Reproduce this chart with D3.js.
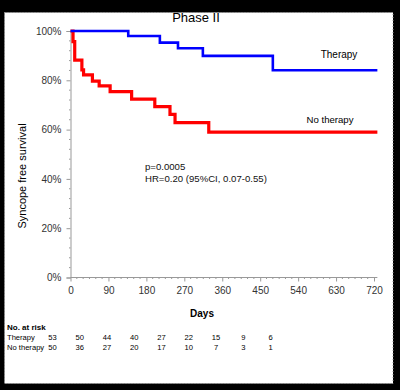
<!DOCTYPE html>
<html>
<head>
<meta charset="utf-8">
<script src="https://cdn.jsdelivr.net/npm/d3@7"></script>
<style>
  html, body { margin: 0; padding: 0; background: #000; }
  svg { display: block; font-family: "Liberation Sans", Arial, sans-serif; }
</style>
</head>
<body>
<svg id="chart" width="400" height="390"></svg>
<script>
// ---- data ----
const title = "Phase II";
const xTicks = [0, 90, 180, 270, 360, 450, 540, 630, 720];
const yTicks = [0, 20, 40, 60, 80, 100];

const therapyDays = [0, 137, 212, 255, 314, 480, 728];
const therapySurv = [100, 98.0, 95.3, 93.0, 89.9, 84.1, 84.1];

const noTherapyDays = [0, 6, 10, 27, 31, 52, 68, 94, 145, 200, 236, 248, 328, 728];
const noTherapySurv = [100, 95.7, 88.2, 84.2, 82.2, 79.7, 77.7, 75.4, 72.4, 69.3, 66.2, 62.8, 59.0, 59.0];

const riskGroups = ["Therapy", "No therapy"];
const riskTherapy = [53, 50, 44, 40, 27, 22, 15, 9, 6];
const riskNoTherapy = [50, 36, 27, 20, 17, 10, 7, 3, 1];

const pText = "p=0.0005";
const hrText = "HR=0.20 (95%CI, 0.07-0.55)";

// ---- drawing ----
const svg = d3.select("#chart");

svg.append("rect").attr("x", 0).attr("y", 0).attr("width", 400).attr("height", 390).attr("fill", "#000");
svg.append("rect").attr("x", 4.5).attr("y", 12.5).attr("width", 388.5).attr("height", 371)
  .attr("fill", "#fff").attr("stroke", "#999").attr("stroke-dasharray", "1,2");

const x = d3.scaleLinear().domain([0, 720]).range([70.5, 374]);
const y = d3.scaleLinear().domain([0, 100]).range([277.5, 31]);

// axes
const axisColor = "#999";
const labelColor = "#333";

const yAxis = svg.append("g").attr("transform", `translate(${x(0)},0)`)
  .call(d3.axisLeft(y).tickValues(yTicks).tickFormat(d => d + "%").tickSize(4).tickPadding(5));
const xAxis = svg.append("g").attr("transform", `translate(0,${y(0)})`)
  .call(d3.axisBottom(x).tickValues(xTicks).tickSize(4).tickPadding(5));
xAxis.select(".domain").attr("d", `M${x(0)},0H${x(728)}`);

[xAxis, yAxis].forEach(g => {
  g.select(".domain").attr("stroke", axisColor);
  g.selectAll(".tick line").attr("stroke", axisColor);
  g.selectAll(".tick text").attr("fill", labelColor).style("font-size", "10px")
    .style("font-family", "'Liberation Sans', Arial, sans-serif");
});

// minor ticks
const minorX = d3.range(0, 729, 15).filter(d => d % 90 !== 0);
svg.append("g").selectAll("line").data(minorX).join("line")
  .attr("x1", d => x(d)).attr("x2", d => x(d))
  .attr("y1", y(0)).attr("y2", y(0) + 1.5).attr("stroke", axisColor);
const minorY = d3.range(0, 101, 4).filter(d => d % 20 !== 0);
svg.append("g").selectAll("line").data(minorY).join("line")
  .attr("x1", x(0) - 1.5).attr("x2", x(0))
  .attr("y1", d => y(d)).attr("y2", d => y(d)).attr("stroke", axisColor);

// title & axis labels
svg.append("text").attr("x", 196).attr("y", 22).attr("text-anchor", "middle")
  .style("font-size", "13px").attr("fill", "#000").text(title);
svg.append("text").attr("x", 202).attr("y", 317).attr("text-anchor", "middle")
  .style("font-size", "10px").style("font-weight", "bold").attr("fill", "#000").text("Days");
svg.append("text").attr("transform", "translate(26,176) rotate(-90)").attr("text-anchor", "middle")
  .style("font-size", "11px").attr("fill", "#000").text("Syncope free survival");

// curves
const line = d3.line().x(d => x(d[0])).y(d => y(d[1])).curve(d3.curveStepAfter);
const noTherapyPts = noTherapyDays.map((d, i) => [d, noTherapySurv[i]]);
const therapyPts = therapyDays.map((d, i) => [d, therapySurv[i]]);

svg.append("path").datum(noTherapyPts).attr("d", line)
  .attr("fill", "none").attr("stroke", "#ff0000").attr("stroke-width", 3.2);
svg.append("path").datum(therapyPts).attr("d", line)
  .attr("fill", "none").attr("stroke", "#0000ff").attr("stroke-width", 2.6);

// curve labels
svg.append("text").attr("x", 339).attr("y", 57.5).attr("text-anchor", "middle")
  .style("font-size", "10px").attr("fill", "#000").text(riskGroups[0]);
svg.append("text").attr("x", 330).attr("y", 122.5).attr("text-anchor", "middle")
  .style("font-size", "9.6px").attr("fill", "#000").text(riskGroups[1]);

// annotations
svg.append("text").attr("x", 145).attr("y", 170).style("font-size", "9.6px").attr("fill", "#111").text(pText);
svg.append("text").attr("x", 145).attr("y", 181.5).style("font-size", "9.6px").attr("fill", "#111").text(hrText);

// risk table
svg.append("text").attr("x", 7).attr("y", 330).style("font-size", "8px").style("font-weight", "bold")
  .attr("fill", "#000").text("No. at risk");
const colX = d3.scalePoint().domain(xTicks).range([52.5, 270.5]);
const rows = [riskTherapy, riskNoTherapy];
const rowY = [340, 349.5];
rows.forEach((vals, r) => {
  svg.append("text").attr("x", 7).attr("y", rowY[r]).style("font-size", "7.6px").attr("fill", "#000").text(riskGroups[r]);
  svg.append("g").selectAll("text").data(vals).join("text")
    .attr("x", (d, i) => colX(xTicks[i])).attr("y", rowY[r]).attr("text-anchor", "middle")
    .style("font-size", "7.6px").attr("fill", "#000").text(d => d);
});
</script>
</body>
</html>
